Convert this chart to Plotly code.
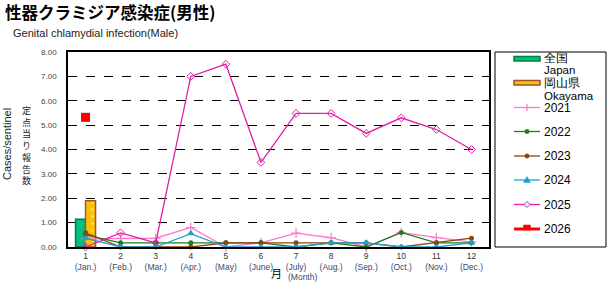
import plotly.graph_objects as go

# ---------------- data ----------------
months = list(range(1, 13))
month_en = ["Jan.", "Feb.", "Mar.", "Apr.", "May", "June",
            "July", "Aug.", "Sep.", "Oct.", "Nov.", "Dec."]
japan = [1.14] + [None] * 11
okayama = [1.90] + [None] * 11
y2021 = [0.33, 0.36, 0.36, 0.80, 0.00, 0.17, 0.57, 0.38, 0.00, 0.59, 0.38, 0.20]
y2022 = [0.50, 0.17, 0.17, 0.17, 0.17, 0.17, 0.00, 0.17, 0.00, 0.60, 0.17, 0.17]
y2023 = [0.58, 0.00, 0.00, 0.00, 0.17, 0.17, 0.17, 0.17, 0.17, 0.00, 0.17, 0.36]
y2024 = [0.36, 0.00, 0.00, 0.55, 0.00, 0.00, 0.00, 0.17, 0.17, 0.00, 0.00, 0.17]
y2025 = [0.00, 0.58, 0.17, 7.00, 7.50, 3.47, 5.48, 5.48, 4.66, 5.30, 4.82, 4.00]
y2026 = [5.32] + [None] * 11
y_ticks = [0, 1, 2, 3, 4, 5, 6, 7, 8]

# ---------------- styles ----------------
W, H = 612, 283
L, R, T, B = 68, 489, 52, 247   # plot area in pixels

series = [
    ("2021", y2021, "#FF77CC", "cross-thin", 7),
    ("2022", y2022, "#1E7D1E", "circle", 5),
    ("2023", y2023, "#8B4513", "circle", 5),
    ("2024", y2024, "#1E9FD0", "triangle-up", 7),
    ("2025", y2025, "#E020A8", "diamond-open", 6),
    ("2026", y2026, "#FF0000", "square", 9),
]

fig = go.Figure()
fig.add_bar(x=months, y=japan, name="全国",
            marker=dict(color="#00C080", line=dict(color="#008040", width=1.5)))
fig.add_bar(x=months, y=okayama, name="岡山県",
            marker=dict(color="#FFC000", line=dict(color="#A0522D", width=1.5),
                        pattern=dict(shape=".", fgcolor="white", bgcolor="#FFC000",
                                     size=7, solidity=0.1)))
for name, vals, col, sym, ms in series:
    lc = dict(color=col, width=1.3 if name != "2026" else 3)
    mk = dict(symbol=sym, size=ms, color=col)
    if sym == "cross-thin":
        mk["line"] = dict(color=col, width=1.2)
    if sym == "diamond-open":
        mk["line"] = dict(color=col, width=1)
    fig.add_scatter(x=months, y=vals, mode="lines+markers", name=name,
                    line=lc, marker=mk, cliponaxis=False)

ticktext = [f"{m}<br><span style='color:#3a4870'>({e})</span>" for m, e in zip(months, month_en)]

# ---------------- manual legend ----------------
def px(x):
    return (x - L) / (R - L)

def py(y):
    return (B - y) / (B - T)

def P(x, y):
    return f"{px(x):.5f},{py(y):.5f}"

shapes = [dict(type="rect", xref="paper", yref="paper", x0=px(495), x1=px(606),
               y0=py(52), y1=py(247), line=dict(color="black", width=1))]
annotations = []
gx0, gx1, tx, mxp = 514, 540, 542, 527
shapes.append(dict(type="rect", xref="paper", yref="paper", x0=px(gx0), x1=px(gx1),
                   y0=py(61), y1=py(56.5), fillcolor="#00C080",
                   line=dict(color="#008040", width=1.5)))
shapes.append(dict(type="rect", xref="paper", yref="paper", x0=px(gx0), x1=px(gx1),
                   y0=py(85), y1=py(80.5), fillcolor="#FFC000",
                   line=dict(color="#A0522D", width=1.5)))
for txt, yy in [("全国", 58), ("Japan", 70), ("岡山県", 83), ("Okayama", 95.5)]:
    annotations.append(dict(text=txt, xref="paper", yref="paper", x=px(tx), y=py(yy),
                            xanchor="left", yanchor="middle", showarrow=False,
                            font=dict(size=11.5, color="black")))
leg_y = [107.5, 131.5, 156, 180, 204.5, 229]
for (name, vals, col, sym, ms), yy in zip(series, leg_y):
    shapes.append(dict(type="line", xref="paper", yref="paper", x0=px(gx0), x1=px(gx1),
                       y0=py(yy), y1=py(yy),
                       line=dict(color=col, width=1.3 if name != "2026" else 3)))
    annotations.append(dict(text=name, xref="paper", yref="paper", x=px(tx), y=py(yy),
                            xanchor="left", yanchor="middle", showarrow=False,
                            font=dict(size=12, color="black")))
    # legend glyph markers as shapes
    if sym == "cross-thin":
        shapes.append(dict(type="line", xref="paper", yref="paper", x0=px(mxp), x1=px(mxp),
                           y0=py(yy - 3.5), y1=py(yy + 3.5), line=dict(color=col, width=1.2)))
    elif sym == "circle":
        shapes.append(dict(type="circle", xref="paper", yref="paper",
                           x0=px(mxp - 2.2), x1=px(mxp + 2.2), y0=py(yy - 2.2), y1=py(yy + 2.2),
                           fillcolor=col, line=dict(color=col, width=0.5)))
    elif sym == "triangle-up":
        path = f"M{P(mxp, yy - 3.5)} L{P(mxp + 3.5, yy + 2.5)} L{P(mxp - 3.5, yy + 2.5)} Z"
        shapes.append(dict(type="path", xref="paper", yref="paper", path=path,
                           fillcolor=col, line=dict(color=col, width=0.5)))
    elif sym == "diamond-open":
        path = f"M{P(mxp, yy - 3)} L{P(mxp + 3, yy)} L{P(mxp, yy + 3)} L{P(mxp - 3, yy)} Z"
        shapes.append(dict(type="path", xref="paper", yref="paper", path=path,
                           fillcolor="white", line=dict(color=col, width=1)))
    elif sym == "square":
        shapes.append(dict(type="rect", xref="paper", yref="paper",
                           x0=px(mxp - 3.5), x1=px(mxp + 3.5), y0=py(yy - 4), y1=py(yy + 1),
                           fillcolor=col, line=dict(color=col, width=0.5)))

# titles
annotations += [
    dict(text="<b>性器クラミジア感染症(男性)</b>", xref="paper", yref="paper", x=px(3), y=py(12),
         xanchor="left", yanchor="middle", showarrow=False,
         font=dict(size=16.5, color="black", family="Noto Sans CJK JP")),
    dict(text="Genital chlamydial infection(Male)", xref="paper", yref="paper",
         x=px(11), y=py(33), xanchor="left", yanchor="middle", showarrow=False,
         font=dict(size=11, color="#222222")),
    dict(text="Cases/sentinel", xref="paper", yref="paper", x=px(7), y=py(144),
         xanchor="center", yanchor="middle", textangle=-90, showarrow=False,
         font=dict(size=11, color="#222222")),
    dict(text="<br>".join("定点当り報告数"), xref="paper", yref="paper", x=px(26), y=py(145),
         xanchor="center", yanchor="middle", showarrow=False,
         font=dict(size=9, color="#222222", family="Noto Sans CJK JP")),
    dict(text="月", xref="paper", yref="paper", x=px(276), y=py(273),
         xanchor="center", yanchor="middle", showarrow=False,
         font=dict(size=11, color="black", family="Noto Sans CJK JP")),
    dict(text="(Month)", xref="paper", yref="paper", x=px(302), y=py(277),
         xanchor="center", yanchor="middle", showarrow=False,
         font=dict(size=8.5, color="#3a4870")),
]

fig.update_layout(
    width=W, height=H,
    margin=dict(l=L, r=W - R, t=T, b=H - B, pad=0),
    paper_bgcolor="white", plot_bgcolor="white",
    font=dict(family="Liberation Sans, Arial, sans-serif", size=8.5, color="#333333"),
    showlegend=False,
    barmode="group", bargap=0.43, bargroupgap=0,
    shapes=shapes, annotations=annotations,
    xaxis=dict(range=[0.5, 12.5], tickmode="array", tickvals=months, ticktext=ticktext,
               showline=True, linecolor="black", linewidth=1.5, mirror=True,
               showgrid=False, zeroline=False, ticks="", ticklabelstandoff=0,
               tickfont=dict(size=8.5, color="#333333")),
    yaxis=dict(range=[0, 8], tickmode="array", tickvals=y_ticks, tickformat=".2f",
               showline=True, linecolor="black", linewidth=1.5, mirror=True,
               showgrid=True, gridcolor="black", griddash="dash", gridwidth=1,
               zeroline=False, ticks="", ticklabelstandoff=8,
               tickfont=dict(size=8, color="#444444")),
)

fig.write_html("out.html")
